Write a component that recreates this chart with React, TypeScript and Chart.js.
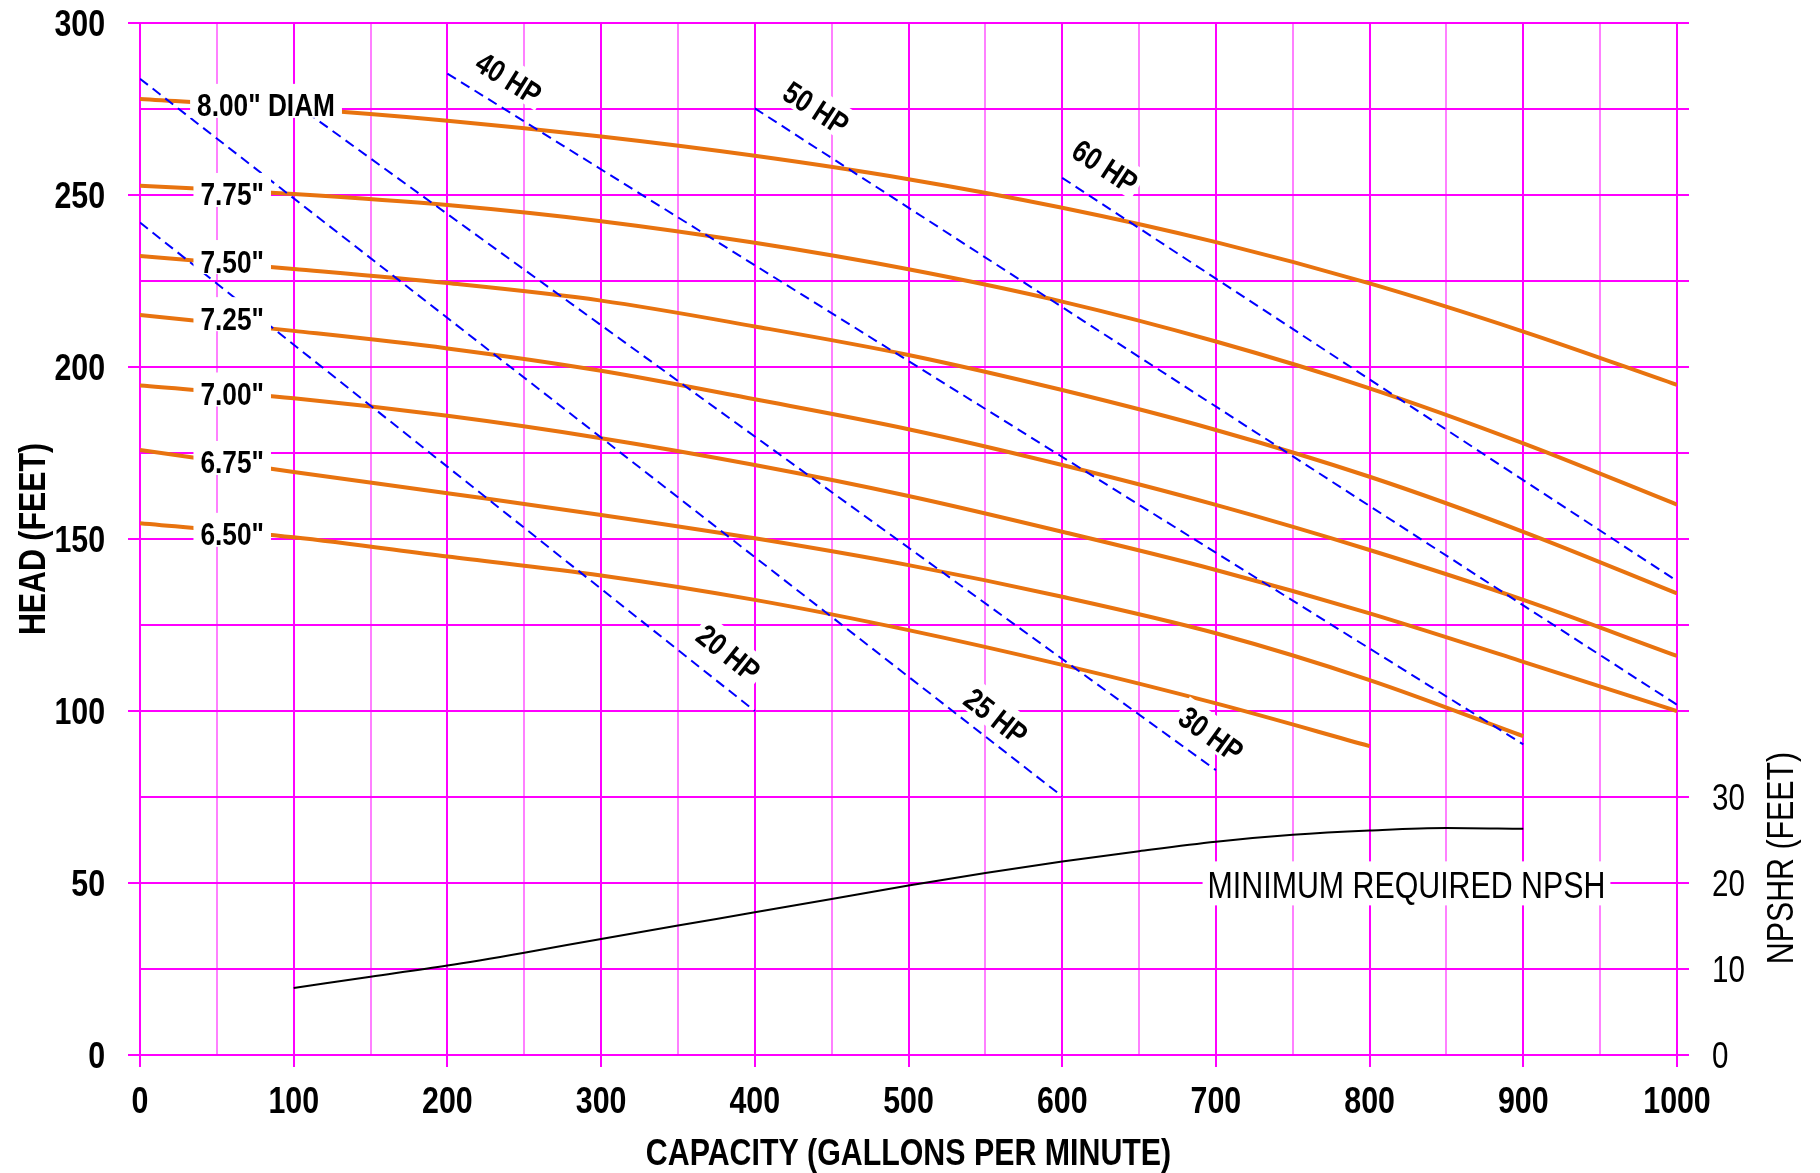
import React, { useEffect, useRef } from 'react';
import { Chart, registerables } from 'chart.js';

Chart.register(...registerables);

const FONT = "'Liberation Sans', Arial, sans-serif";
const NARROW = 0.82; // horizontal squeeze to imitate a narrow typeface

// Capacity (GPM) sample points for the head curves
const flowGpm = [0, 100, 200, 300, 400, 500, 600, 700, 800, 900, 1000];

// Head (feet) per impeller diameter
const head800 = [277.9, 275.2, 271.6, 267.0, 261.4, 254.6, 246.3, 236.3, 224.3, 210.3, 194.8];
const head775 = [252.7, 250.3, 247.1, 242.4, 236.1, 228.4, 219.0, 207.4, 193.8, 177.8, 160.0];
const head750 = [232.3, 228.5, 224.4, 219.3, 211.8, 203.5, 193.3, 181.7, 168.1, 152.1, 134.2];
const head725 = [215.1, 210.5, 205.4, 198.9, 190.6, 181.9, 171.5, 159.9, 146.8, 132.3, 116.0];
const head700 = [194.6, 190.9, 185.8, 179.3, 171.5, 162.5, 152.1, 141.0, 128.4, 114.3, 100.0];
const head675 = [175.9, 169.5, 163.3, 157.0, 150.2, 142.4, 133.2, 122.6, 109.0, 92.7];
const head650 = [154.6, 150.5, 144.9, 139.4, 132.3, 123.5, 113.4, 102.2, 89.8];

const diamSeries = [head800, head775, head750, head725, head700, head675, head650];
const diamLabels = ['8.00" DIAM', '7.75"', '7.50"', '7.25"', '7.00"', '6.75"', '6.50"'];
const diamLabelFlow = [82, 60, 60, 60, 60, 60, 60];
const diamLabelHead = [276.2, 250.3, 230.8, 214.2, 192.3, 172.4, 151.5];

// Minimum required NPSH (feet, right axis)
const npshFlow = [100, 150, 200, 250, 300, 350, 400, 450, 500, 550, 600, 650, 700, 750, 800, 850, 900];
const npshFeet = [7.8, 9.1, 10.4, 11.9, 13.5, 15.05, 16.6, 18.15, 19.7, 21.15, 22.5, 23.7, 24.8, 25.6, 26.1, 26.4, 26.3];
const npshLabel = 'MINIMUM REQUIRED NPSH';
const npshLabelFlow = 824;
const npshLabelHead = 49.6;

// Horsepower lines (head, feet)
const hpLabels = ['20 HP', '25 HP', '30 HP', '40 HP', '50 HP', '60 HP'];
const hpStartFlow = [0, 0, 100, 200, 400, 600];
const hpStartHead = [242.0, 283.8, 276.8, 285.3, 275.2, 255.0];
const hpEndFlow = [400, 600, 700, 900, 1000, 1000];
const hpEndHead = [100.0, 75.2, 82.8, 90.3, 101.8, 137.8];
const hpLabelFlow = [383, 557, 697, 240, 440, 628];
const hpLabelHead = [116.9, 98.5, 93.3, 284.0, 275.3, 258.4];

// Axis texts
const xTitle = 'CAPACITY (GALLONS PER MINUTE)';
const yTitle = 'HEAD (FEET)';
const y2Title = 'NPSHR (FEET)';
const y2TitleAt = 22.9;
const y2MaxLabel = 30;

const ORANGE = '#E8730F';
const MAGENTA = '#ff00ff';
const LIGHT_MAGENTA = '#ff80ff';

function narrowText(
  ctx: CanvasRenderingContext2D,
  text: string,
  x: number,
  midY: number,
  size: number,
  bold: boolean,
  align: 'left' | 'center' | 'right',
  angle = 0,
  box?: { padX: number; up: number; down: number },
) {
  ctx.save();
  ctx.font = `${bold ? 'bold ' : ''}${size}px ${FONT}`;
  const w = ctx.measureText(text).width * NARROW;
  ctx.translate(x, midY);
  ctx.rotate(angle);
  let left = -w / 2;
  if (align === 'left') left = 0;
  if (align === 'right') left = -w;
  if (box) {
    ctx.fillStyle = '#ffffff';
    ctx.fillRect(left - box.padX, -box.up, w + 2 * box.padX, box.up + box.down);
  }
  ctx.scale(NARROW, 1);
  ctx.fillStyle = '#000000';
  ctx.textAlign = 'left';
  ctx.textBaseline = 'alphabetic';
  ctx.fillText(text, left / NARROW, size * 0.358);
  ctx.restore();
}

const textPlugin = {
  id: 'pumpTexts',
  afterDatasetsDraw(chart: any) {
    const ctx = chart.ctx as CanvasRenderingContext2D;
    const xs = chart.scales.x;
    const ys = chart.scales.y;

    // diameter labels
    diamLabels.forEach((t, i) => {
      narrowText(ctx, t, xs.getPixelForValue(diamLabelFlow[i]), ys.getPixelForValue(diamLabelHead[i]), 32, true, 'center', 0,
        { padX: 7, up: 21, down: 13 });
    });

    // HP labels rotated along their lines
    hpLabels.forEach((t, i) => {
      const x0 = xs.getPixelForValue(hpStartFlow[i]);
      const y0 = ys.getPixelForValue(hpStartHead[i]);
      const x1 = xs.getPixelForValue(hpEndFlow[i]);
      const y1 = ys.getPixelForValue(hpEndHead[i]);
      const ang = Math.atan2(y1 - y0, x1 - x0);
      narrowText(ctx, t, xs.getPixelForValue(hpLabelFlow[i]), ys.getPixelForValue(hpLabelHead[i]), 31, true, 'center', ang,
        { padX: 4, up: 18, down: 14 });
    });

    // NPSH label
    narrowText(ctx, npshLabel, xs.getPixelForValue(npshLabelFlow), ys.getPixelForValue(npshLabelHead), 37, false, 'center', 0,
      { padX: 5, up: 23, down: 21 });
  },
  afterDraw(chart: any) {
    const ctx = chart.ctx as CanvasRenderingContext2D;
    const xs = chart.scales.x;
    const ys = chart.scales.y;
    const y2 = chart.scales.y2;
    const area = chart.chartArea;

    // x tick labels
    xs.ticks.forEach((t: any) => {
      if (t.value % 100 !== 0) return;
      narrowText(ctx, String(t.value), xs.getPixelForValue(t.value), area.bottom + 45, 37, true, 'center');
    });
    // y tick labels
    ys.ticks.forEach((t: any) => {
      if (t.value % 50 !== 0) return;
      narrowText(ctx, String(t.value), area.left - 35, ys.getPixelForValue(t.value), 37, true, 'right');
    });
    // right tick labels
    y2.ticks.forEach((t: any) => {
      if (t.value > y2MaxLabel) return;
      narrowText(ctx, String(t.value), area.right + 35, y2.getPixelForValue(t.value), 36, false, 'left');
    });

    // axis titles
    narrowText(ctx, xTitle, (area.left + area.right) / 2, chart.height - 21, 37, true, 'center');
    narrowText(ctx, yTitle, 32, (area.top + area.bottom) / 2, 37, true, 'center', -Math.PI / 2);
    narrowText(ctx, y2Title, chart.width - 40, y2.getPixelForValue(y2TitleAt), 37, false, 'center', -Math.PI / 2);
  },
};

export default function App() {
  const canvasRef = useRef<HTMLCanvasElement | null>(null);

  useEffect(() => {
    if (!canvasRef.current) return;

    const diamDatasets = diamSeries.map((arr, k) => ({
      label: diamLabels[k],
      data: arr.map((h, i) => ({ x: flowGpm[i], y: h })),
      borderColor: ORANGE,
      borderWidth: 4,
      pointRadius: 0,
      cubicInterpolationMode: 'monotone' as const,
      fill: false,
      yAxisID: 'y',
      order: 3,
    }));

    const hpDatasets = hpLabels.map((t, i) => ({
      label: t,
      data: [
        { x: hpStartFlow[i], y: hpStartHead[i] },
        { x: hpEndFlow[i], y: hpEndHead[i] },
      ],
      borderColor: '#0000ff',
      borderWidth: 2,
      borderDash: [10, 6],
      pointRadius: 0,
      fill: false,
      yAxisID: 'y',
      order: 2,
    }));

    const npshDataset = {
      label: 'NPSHR',
      data: npshFeet.map((v, i) => ({ x: npshFlow[i], y: v })),
      borderColor: '#000000',
      borderWidth: 2,
      pointRadius: 0,
      cubicInterpolationMode: 'monotone' as const,
      fill: false,
      yAxisID: 'y2',
      order: 1,
    };

    const chart = new Chart(canvasRef.current, {
      type: 'line',
      data: { datasets: [...diamDatasets, ...hpDatasets, npshDataset] as any },
      options: {
        animation: false,
        responsive: false,
        maintainAspectRatio: false,
        layout: { padding: { top: 23, left: 0, right: 0, bottom: 0 } },
        plugins: { legend: { display: false }, tooltip: { enabled: false } },
        scales: {
          x: {
            type: 'linear',
            min: 0,
            max: 1000,
            afterFit: (s: any) => { s.height = 118; },
            ticks: { stepSize: 50, autoSkip: false, display: false },
            grid: {
              color: (c: any) => (c.tick && c.tick.value % 100 === 0 ? MAGENTA : LIGHT_MAGENTA),
              tickColor: (c: any) => (c.tick && c.tick.value % 100 === 0 ? MAGENTA : 'rgba(0,0,0,0)'),
              lineWidth: 2,
              drawTicks: true,
              tickLength: 12,
            },
            border: { display: false },
            title: { display: false },
          },
          y: {
            type: 'linear',
            position: 'left',
            min: 0,
            max: 300,
            afterFit: (s: any) => { s.width = 140; },
            ticks: { stepSize: 25, autoSkip: false, display: false },
            grid: {
              color: MAGENTA,
              tickColor: (c: any) => (c.tick && c.tick.value % 50 === 0 ? MAGENTA : 'rgba(0,0,0,0)'),
              lineWidth: 2,
              drawTicks: true,
              tickLength: 12,
            },
            border: { display: false },
            title: { display: false },
          },
          y2: {
            type: 'linear',
            position: 'right',
            min: 0,
            max: 120,
            afterFit: (s: any) => { s.width = 143; },
            ticks: { stepSize: 10, autoSkip: false, display: false },
            grid: {
              drawOnChartArea: false,
              color: MAGENTA,
              tickColor: MAGENTA,
              lineWidth: 2,
              drawTicks: true,
              tickLength: 12,
            },
            border: { display: false },
          },
        },
      } as any,
      plugins: [textPlugin],
    });

    return () => chart.destroy();
  }, []);

  return (
    <div style={{ position: 'fixed', left: 0, top: 0, width: 1820, height: 1173, background: '#ffffff' }}>
      <canvas ref={canvasRef} width={1820} height={1173} style={{ display: 'block' }} />
    </div>
  );
}
